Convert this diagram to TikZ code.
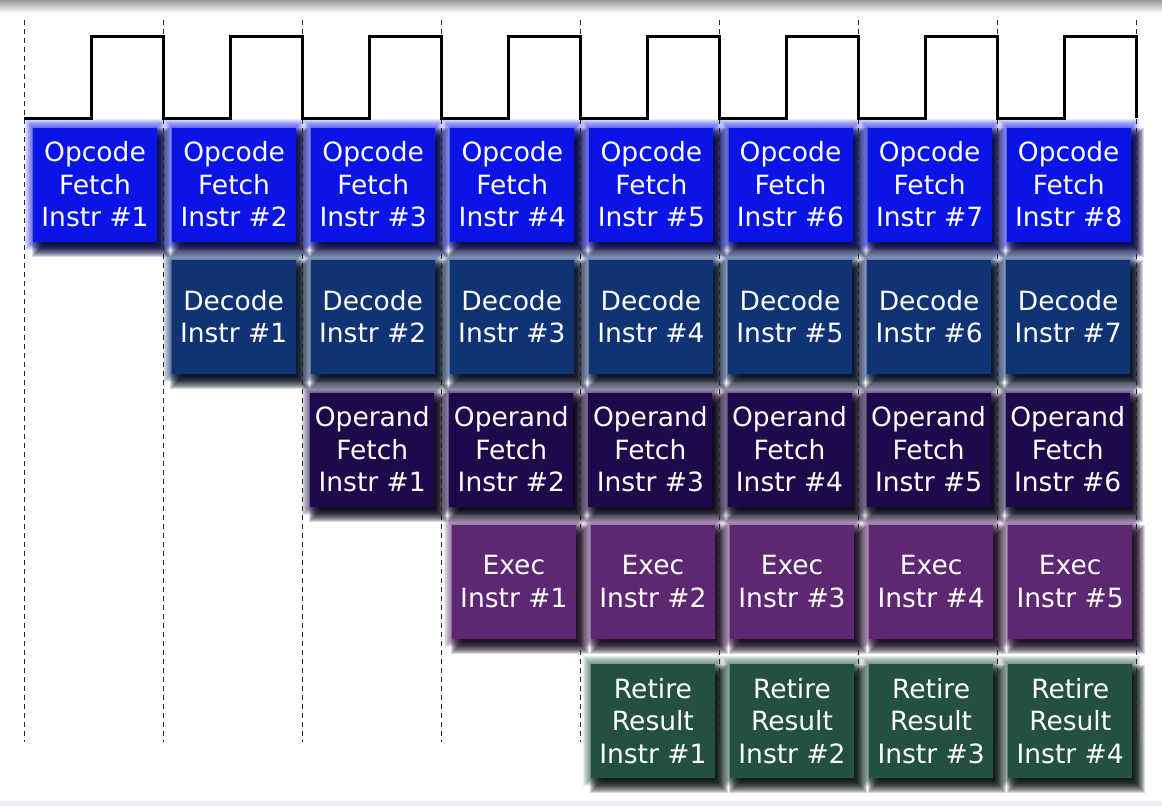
\documentclass[tikz,border=0pt]{standalone}
\usepackage{fontspec}
\setmainfont{DejaVu Sans}
\usetikzlibrary{calc}
\definecolor{opblue}{RGB}{10,20,230}
\definecolor{decblue}{RGB}{15,51,116}
\definecolor{operpurple}{RGB}{30,10,75}
\definecolor{execpurple}{RGB}{93,40,113}
\definecolor{retgreen}{RGB}{36,80,66}
\definecolor{bottomband}{RGB}{237,237,245}
\pgfdeclarelayer{shadowlayer}
\pgfdeclarelayer{dashlayer}
\pgfsetlayers{shadowlayer,dashlayer,main}
\tikzset{
  stagebox/.style={fill=#1, text=white, align=center, inner sep=0pt,
    minimum width=124pt, minimum height=114pt,
    font=\fontsize{26.5pt}{32.5pt}\selectfont},
  dashline/.style={line width=1pt, black!85, dash pattern=on 5pt off 4pt},
  clockline/.style={line width=3pt, black, line join=miter},
}
\newcommand\stagenode[5]{%
  \pgfmathsetmacro\stx{#2}%
  \node[stagebox=#4] (#1) at (\stx,#3) {#5};
  \begin{pgfonlayer}{shadowlayer}
    \foreach \e in {8,7,6,5,4,3,2,1,0}{
      \fill[#4, opacity=0.1] ([xshift=-\e pt, yshift=\e pt]#1.north west) rectangle ([xshift=\e pt, yshift=-\e pt]#1.south east);
    }
    \foreach \e in {7,6,5,4,3,2,1,0,-1,-2,-3,-4,-5,-6}{
      \fill[#4!25!black, opacity=0.16] ([xshift=6pt-\e pt, yshift=-8pt+\e pt]#1.north west) rectangle ([xshift=6pt+\e pt, yshift=-8pt-\e pt]#1.south east);
    }
  \end{pgfonlayer}%
}
\begin{document}
\begin{tikzpicture}[x=1pt, y=-1pt]
\useasboundingbox (0,0) rectangle (1162,806);
\shade[top color=black!40, bottom color=white] (0,0) rectangle (1162,13);
\fill[bottomband] (0,801) rectangle (1162,806);
% dashed cycle boundaries
\begin{pgfonlayer}{dashlayer}
\foreach \i in {0,...,8}{
  \draw[dashline] ({24+139.1*\i},20) -- ({24+139.1*\i},742);
}
\end{pgfonlayer}
% clock
\draw[clockline] (24,118) \foreach \i in {0,...,7}{
  -- ({24+139.1*\i+67},118) -- ++(0,-82) -- ({24+139.1*(\i+1)},36) -- ++(0,82) };
% row 1: opcode fetch
\foreach \c in {1,...,8}{
  \stagenode{of\c}{24+139.1*(\c-1)+69.5+1.5}{184.5}{opblue}{Opcode\\Fetch\\Instr \#\c}
}
% row 2: decode
\foreach \c in {2,...,8}{
  \pgfmathtruncatemacro\n{\c-1}
  \stagenode{dc\c}{24+139.1*(\c-1)+69.5+1}{316.5}{decblue}{Decode\\Instr \#\n}
}
% row 3: operand fetch
\foreach \c in {3,...,8}{
  \pgfmathtruncatemacro\n{\c-2}
  \stagenode{ofe\c}{24+139.1*(\c-1)+69.5+0.5}{449.5}{operpurple}{Operand\\Fetch\\Instr \#\n}
}
% row 4: exec
\foreach \c in {4,...,8}{
  \pgfmathtruncatemacro\n{\c-3}
  \stagenode{ex\c}{24+139.1*(\c-1)+69.5+3}{581.5}{execpurple}{Exec\\Instr \#\n}
}
% row 5: retire
\foreach \c in {5,...,8}{
  \pgfmathtruncatemacro\n{\c-4}
  \stagenode{rt\c}{24+139.1*(\c-1)+69.5+3}{721}{retgreen}{Retire\\Result\\Instr \#\n}
}
\end{tikzpicture}
\end{document}
